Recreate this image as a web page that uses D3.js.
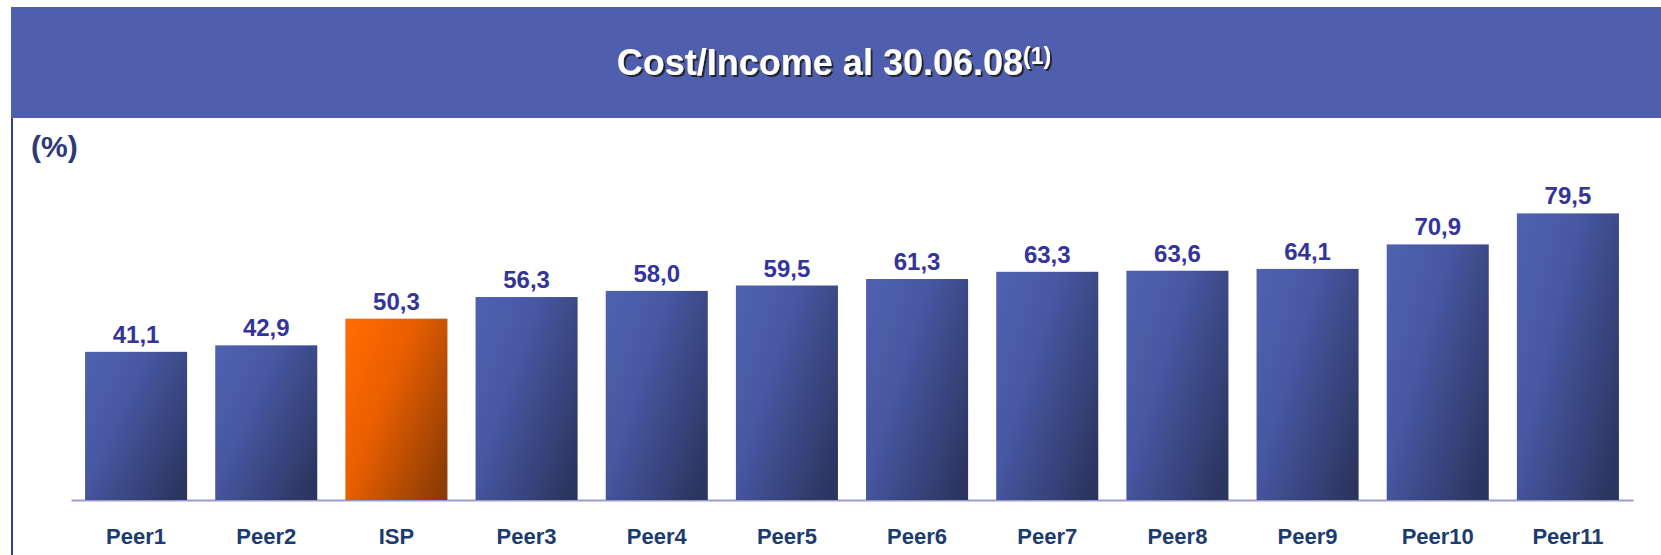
<!DOCTYPE html>
<html>
<head>
<meta charset="utf-8">
<script src="https://cdn.jsdelivr.net/npm/d3@7"></script>
<style>
  html, body { margin: 0; padding: 0; background: #ffffff; }
  svg { display: block; font-family: "Liberation Sans", Arial, sans-serif; }
</style>
</head>
<body>
<svg id="chart" width="1661" height="555"></svg>
<script>
// Cost/Income ratio at 30.06.08, peers vs ISP
const categories = ["Peer1", "Peer2", "ISP", "Peer3", "Peer4", "Peer5", "Peer6", "Peer7", "Peer8", "Peer9", "Peer10", "Peer11"];
const values = [41.1, 42.9, 50.3, 56.3, 58.0, 59.5, 61.3, 63.3, 63.6, 64.1, 70.9, 79.5];
const highlight = ["ISP"];
const titleText = "Cost/Income al 30.06.08";
const titleNote = "(1)";
const unitLabel = "(%)";

const W = 1661, H = 555;
const svg = d3.select("#chart");
const defs = svg.append("defs");

// Bar fills: light top-left to dark bottom-right
const gBlue = defs.append("linearGradient").attr("id", "gBlue")
  .attr("x1", 0).attr("y1", 0.15).attr("x2", 1).attr("y2", 0.85);
gBlue.append("stop").attr("offset", "0%").attr("stop-color", "#4e60ae");
gBlue.append("stop").attr("offset", "35%").attr("stop-color", "#4757a2");
gBlue.append("stop").attr("offset", "100%").attr("stop-color", "#2c355f");

const gOrange = defs.append("linearGradient").attr("id", "gOrange")
  .attr("x1", 0).attr("y1", 0.15).attr("x2", 1).attr("y2", 0.85);
gOrange.append("stop").attr("offset", "0%").attr("stop-color", "#ff6a00");
gOrange.append("stop").attr("offset", "40%").attr("stop-color", "#e85e00");
gOrange.append("stop").attr("offset", "100%").attr("stop-color", "#8c3c06");

const shadow = defs.append("filter").attr("id", "txtShadow")
  .attr("x", "-5%").attr("y", "-20%").attr("width", "110%").attr("height", "140%");
shadow.append("feDropShadow").attr("dx", 2).attr("dy", 2).attr("stdDeviation", 0.6)
  .attr("flood-color", "#1a1a1a").attr("flood-opacity", 0.9);

// Header band
svg.append("rect").attr("x", 11).attr("y", 7).attr("width", W - 11).attr("height", 111)
  .attr("fill", "#4f5fad");

// Left frame rule
svg.append("line").attr("x1", 12).attr("x2", 12).attr("y1", 118).attr("y2", H)
  .attr("stroke", "#3b3b9b").attr("stroke-width", 2);

// Title with footnote marker
const title = svg.append("text")
  .attr("x", 834).attr("y", 75)
  .attr("text-anchor", "middle")
  .attr("fill", "#ffffff")
  .attr("font-weight", "bold")
  .attr("font-size", 36)
  .attr("filter", "url(#txtShadow)");
title.append("tspan").text(titleText);
title.append("tspan").attr("font-size", 23).attr("dy", -11).text(titleNote);

// Unit label
svg.append("text").attr("x", 31).attr("y", 157)
  .attr("fill", "#2e3a78").attr("font-weight", "bold").attr("font-size", 30)
  .text(unitLabel);

// Scales
const x = d3.scaleBand().domain(categories).range([71, 1633])
  .paddingInner(0.216).paddingOuter(0.108);
const y = d3.scaleLinear().domain([0, 100]).range([500, 139.5]);

// Baseline axis
const xAxis = svg.append("g").attr("transform", `translate(0,${y(0)})`)
  .call(d3.axisBottom(x).tickSize(0).tickPadding(0));
xAxis.select(".domain").attr("stroke", "#9b9bd2").attr("stroke-width", 2);
xAxis.selectAll(".tick text").remove();

// Bars
svg.append("g").selectAll("rect").data(categories).join("rect")
  .attr("x", d => x(d))
  .attr("y", (d, i) => y(values[i]))
  .attr("width", x.bandwidth())
  .attr("height", (d, i) => y(0) - y(values[i]))
  .attr("fill", d => highlight.includes(d) ? "url(#gOrange)" : "url(#gBlue)");

// Value labels
const fmt = v => d3.format(".1f")(v).replace(".", ",");
svg.append("g").selectAll("text").data(categories).join("text")
  .attr("x", d => x(d) + x.bandwidth() / 2)
  .attr("y", (d, i) => y(values[i]) - 9)
  .attr("text-anchor", "middle")
  .attr("fill", "#34349a")
  .attr("font-weight", "bold")
  .attr("font-size", 24)
  .text((d, i) => fmt(values[i]));

// Category labels
svg.append("g").selectAll("text").data(categories).join("text")
  .attr("x", d => x(d) + x.bandwidth() / 2)
  .attr("y", 544)
  .attr("text-anchor", "middle")
  .attr("fill", "#1c3b6e")
  .attr("font-weight", "bold")
  .attr("font-size", 22)
  .text(d => d);
</script>
</body>
</html>
